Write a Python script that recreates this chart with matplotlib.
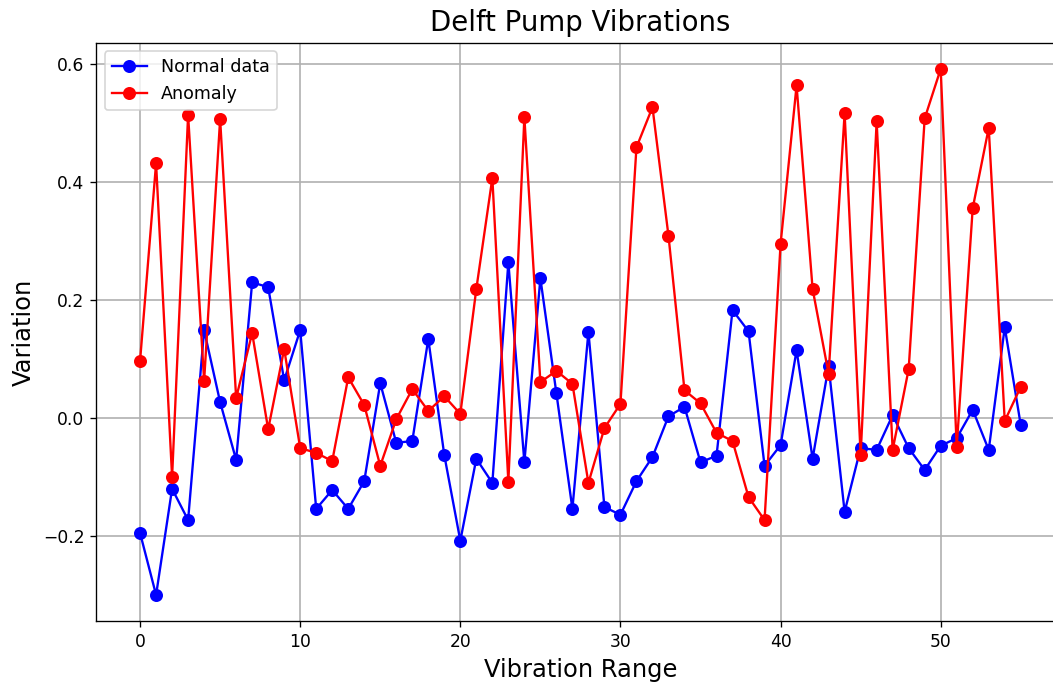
import matplotlib
matplotlib.use("Agg")
import matplotlib.pyplot as plt
import numpy as np

x_values = list(range(56))
normal_data = [-0.195, -0.300, -0.120, -0.173, 0.149, 0.027, -0.071, 0.230, 0.222, 0.064,
               0.149, -0.154, -0.122, -0.154, -0.107, 0.059, -0.042, -0.039, 0.134, -0.063,
               -0.208, -0.069, -0.110, 0.264, -0.075, 0.237, 0.042, -0.154, 0.146, -0.151,
               -0.164, -0.107, -0.066, 0.003, 0.019, -0.075, -0.064, 0.183, 0.147, -0.081,
               -0.046, 0.115, -0.069, 0.088, -0.159, -0.051, -0.054, 0.005, -0.051, -0.088,
               -0.047, -0.034, 0.014, -0.054, 0.154, -0.012]
anomaly = [0.097, 0.432, -0.100, 0.514, 0.063, 0.507, 0.034, 0.144, -0.019, 0.117,
           -0.051, -0.059, -0.073, 0.069, 0.022, -0.081, -0.002, 0.049, 0.012, 0.037,
           0.007, 0.219, 0.407, -0.108, 0.510, 0.061, 0.080, 0.058, -0.110, -0.017,
           0.024, 0.459, 0.527, 0.309, 0.047, 0.025, -0.025, -0.039, -0.134, -0.173,
           0.295, 0.564, 0.219, 0.075, 0.517, -0.063, 0.503, -0.054, 0.083, 0.508,
           0.592, -0.049, 0.356, 0.492, -0.005, 0.053]

DPI = 120
fig = plt.figure(figsize=(1053 / DPI, 684 / DPI), dpi=DPI)
ax = fig.add_axes([0.0912, 0.0917, 0.920, 0.846])
ax.plot(x_values, normal_data, color="blue", marker="o", markersize=6.8, linewidth=1.4, label="Normal data")
ax.plot(x_values, anomaly, color="red", marker="o", markersize=6.8, linewidth=1.4, label="Anomaly")
ax.set_title("Delft Pump Vibrations", fontsize=16.5, pad=7)
ax.set_xlabel("Vibration Range", fontsize=14.5)
ax.set_ylabel("Variation", fontsize=14.5)
ax.tick_params(labelsize=10.3)
ax.grid(True, linewidth=1.0)
ax.legend(loc="upper left", fontsize=10.5)
fig.savefig("out.png", dpi=DPI)
